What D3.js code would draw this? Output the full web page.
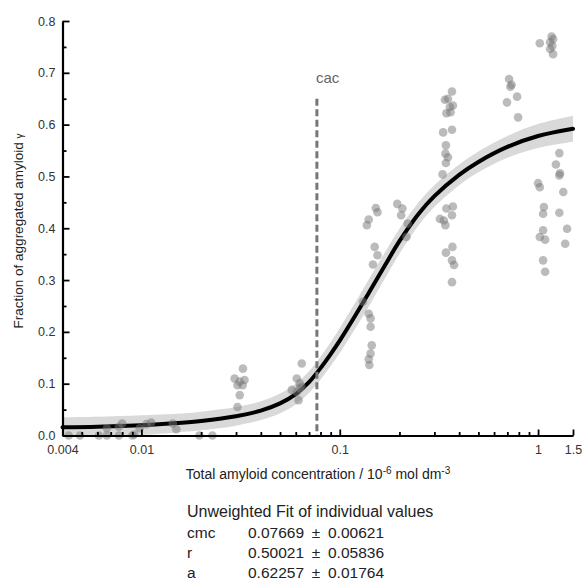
<!DOCTYPE html>
<html>
<head>
<meta charset="utf-8">
<script src="https://cdn.jsdelivr.net/npm/d3@7"></script>
<style>
  body { margin: 0; background: #fff; font-family: "Liberation Sans", Arial, sans-serif; }
  svg text { font-family: "Liberation Sans", Arial, sans-serif; }
</style>
</head>
<body>
<div id="chart"></div>
<script>
// measured values, total concentration (10^-6 mol dm^-3) vs fraction aggregated
const concs = [
    0.0043, 0.0049, 0.0061, 0.0067, 0.0077, 0.0090, 0.0092, 0.0196, 0.0228,
    0.0067, 0.0077, 0.0080, 0.0098, 0.0106, 0.0112, 0.0144, 0.0150,
    0.0325, 0.0295, 0.0313, 0.0331, 0.0324, 0.0305, 0.0313, 0.0305,
    0.0643, 0.0607, 0.0628, 0.0573, 0.0607, 0.0628, 0.0643, 0.0620,
    0.152, 0.155, 0.140, 0.137, 0.150, 0.155, 0.147, 0.131, 0.140, 0.143, 0.143, 0.145, 0.143, 0.140, 0.141,
    0.195, 0.207, 0.204, 0.220, 0.217,
    0.368, 0.339, 0.351, 0.372, 0.359, 0.345, 0.362, 0.332, 0.368, 0.343, 0.341, 0.351, 0.343, 0.330,
    0.345, 0.372, 0.320, 0.335, 0.341, 0.368, 0.370, 0.343, 0.368, 0.377, 0.368,
    0.714, 0.735, 0.725, 0.784, 0.697, 0.793,
    1.17, 1.19, 1.15, 1.18, 1.15, 1.19, 1.02,
    1.28, 1.23, 1.29, 1.28, 1.00, 1.02, 1.34, 1.07, 1.06, 1.28, 1.06, 1.02, 1.085, 1.40, 1.37, 1.06, 1.085
]
const fractions = [
    0.000, 0.000, 0.000, 0.000, 0.000, 0.000, 0.002, 0.000, 0.000,
    0.014, 0.017, 0.023, 0.014, 0.022, 0.025, 0.023, 0.012,
    0.129, 0.110, 0.104, 0.107, 0.097, 0.097, 0.078, 0.055,
    0.139, 0.110, 0.101, 0.088, 0.084, 0.091, 0.094, 0.068,
    0.439, 0.431, 0.417, 0.406, 0.364, 0.348, 0.330, 0.258, 0.235, 0.226, 0.210, 0.174, 0.158, 0.147, 0.136,
    0.447, 0.438, 0.425, 0.409, 0.383,
    0.664, 0.648, 0.650, 0.637, 0.634, 0.622, 0.624, 0.585, 0.590, 0.560, 0.544, 0.537, 0.526, 0.504,
    0.438, 0.442, 0.418, 0.415, 0.406, 0.425, 0.364, 0.353, 0.338, 0.329, 0.296,
    0.688, 0.677, 0.673, 0.654, 0.643, 0.614,
    0.770, 0.765, 0.759, 0.752, 0.746, 0.736, 0.757,
    0.545, 0.523, 0.506, 0.502, 0.487, 0.479, 0.470, 0.441, 0.428, 0.430, 0.396, 0.383, 0.378, 0.399, 0.370, 0.338, 0.316
]

// fitted curve, with half width of the confidence band
const fitX = [0.004, 0.006, 0.01, 0.015, 0.02, 0.03, 0.04, 0.05, 0.06, 0.07, 0.08, 0.09, 0.1,
    0.12, 0.14, 0.17, 0.2, 0.25, 0.3, 0.4, 0.5, 0.7, 1.0, 1.5]
const fitY = [0.016, 0.017, 0.020, 0.024, 0.028, 0.037, 0.048, 0.062, 0.080, 0.103, 0.130, 0.157, 0.183,
    0.232, 0.275, 0.330, 0.375, 0.428, 0.462, 0.503, 0.528, 0.557, 0.578, 0.592]
const fitBand = [0.019, 0.019, 0.019, 0.018, 0.018, 0.018, 0.018, 0.019, 0.020, 0.021, 0.022, 0.023, 0.024,
    0.025, 0.026, 0.025, 0.024, 0.022, 0.021, 0.020, 0.020, 0.021, 0.023, 0.025]

const cac = 0.07669
const cacTop = 0.65

const xTicks = [0.004, 0.01, 0.1, 1, 1.5]
const xTickLabels = ['0.004', '0.01', '0.1', '1', '1.5']
const xMinorTicks = [0.005, 0.006, 0.007, 0.008, 0.009, 0.02, 0.03, 0.04, 0.05, 0.06, 0.07, 0.08, 0.09,
    0.2, 0.3, 0.4, 0.5, 0.6, 0.7, 0.8, 0.9]
const yTicks = [0, 0.1, 0.2, 0.3, 0.4, 0.5, 0.6, 0.7, 0.8]
const yMinorTicks = [0.05, 0.15, 0.25, 0.35, 0.45, 0.55, 0.65, 0.75]

const fitParams = ['cmc', 'r', 'a']
const fitValues = ['0.07669', '0.50021', '0.62257']
const fitErrors = ['0.00621', '0.05836', '0.01764']

const width = 582
const height = 585
const dim = { left: 62.5, right: 573, top: 21, bottom: 435.5 }

const svg = d3.select('#chart').append('svg')
    .attr('width', width).attr('height', height)

const x = d3.scaleLog().domain([0.004, 1.5]).range([dim.left, dim.right])
const y = d3.scaleLinear().domain([0, 0.8]).range([dim.bottom, dim.top])

// confidence band
const curvePts = fitX.map((d, i) => ({ x: d, y: fitY[i], h: fitBand[i] }))
svg.append('path')
    .datum(curvePts)
    .attr('fill', '#d9d9d9')
    .attr('d', d3.area()
        .curve(d3.curveCatmullRom)
        .x(d => x(d.x))
        .y0(d => y(d.y - d.h))
        .y1(d => y(d.y + d.h)))

svg.append('path')
    .datum(curvePts)
    .attr('fill', 'none')
    .attr('stroke', '#000')
    .attr('stroke-width', 4)
    .attr('stroke-linecap', 'round')
    .attr('d', d3.line()
        .curve(d3.curveCatmullRom)
        .x(d => x(d.x))
        .y(d => y(d.y)))

// cac marker
svg.append('line')
    .attr('x1', x(cac)).attr('x2', x(cac))
    .attr('y1', y(cacTop)).attr('y2', y(0))
    .attr('stroke', '#777')
    .attr('stroke-width', 3)
    .attr('stroke-dasharray', '7,3.5')
svg.append('text')
    .attr('x', x(cac) - 1).attr('y', y(cacTop) - 16)
    .style('font-size', '15px').style('fill', '#666')
    .text('cac')

// data points
svg.append('g').selectAll('circle')
    .data(concs)
    .join('circle')
    .attr('cx', d => x(d))
    .attr('cy', (d, i) => y(fractions[i]))
    .attr('r', 4.3)
    .attr('fill', '#777')
    .attr('fill-opacity', 0.5)

// axes
svg.append('g')
    .attr('transform', `translate(${dim.left},0)`)
    .call(d3.axisLeft(y).tickValues(yTicks).tickFormat(d3.format('.1f'))
        .tickSize(-7).tickSizeOuter(0).tickPadding(7))
svg.append('g')
    .attr('transform', `translate(${dim.left},0)`)
    .call(d3.axisLeft(y).tickValues(yMinorTicks).tickFormat('')
        .tickSize(-4).tickSizeOuter(0))
    .call(g => g.select('.domain').remove())

svg.append('g')
    .attr('transform', `translate(0,${dim.bottom})`)
    .call(d3.axisBottom(x).tickValues(xTicks).tickFormat((d, i) => xTickLabels[i])
        .tickSize(-6).tickSizeOuter(0).tickPadding(10))
svg.append('g')
    .attr('transform', `translate(0,${dim.bottom})`)
    .call(d3.axisBottom(x).tickValues(xMinorTicks).tickFormat('')
        .tickSize(-3.5).tickSizeOuter(0))
    .call(g => g.select('.domain').remove())

svg.selectAll('.domain').attr('stroke', '#000').attr('stroke-width', 2.2)
svg.selectAll('.tick line').attr('stroke', '#000').attr('stroke-width', 1.8)
svg.selectAll('.tick text')
    .style('font-size', '12.5px')
    .style('font-family', '"Liberation Sans", Arial, sans-serif')
    .attr('fill', '#333')

// axis titles
const xTitle = svg.append('text')
    .attr('x', 318).attr('y', 479)
    .attr('text-anchor', 'middle')
    .style('font-size', '14px').style('fill', '#222')
xTitle.append('tspan').text('Total amyloid concentration / 10')
xTitle.append('tspan').attr('dy', -5).style('font-size', '10px').text('-6')
xTitle.append('tspan').attr('dy', 5).text(' mol dm')
xTitle.append('tspan').attr('dy', -5).style('font-size', '10px').text('-3')

const yTitle = svg.append('text')
    .attr('transform', 'translate(23,231) rotate(-90)')
    .attr('text-anchor', 'middle')
    .style('font-size', '13.5px').style('fill', '#222')
yTitle.append('tspan').text('Fraction of aggregated amyloid ')
yTitle.append('tspan').style('font-size', '10px').text('γ')

// fit summary
const fitX0 = 187
const fitCol = 248
svg.append('text')
    .attr('x', fitX0).attr('y', 517)
    .style('font-size', '16px').style('fill', '#222')
    .text('Unweighted Fit of individual values')
fitParams.forEach((p, i) => {
    const yy = 538 + i * 20
    svg.append('text').attr('x', fitX0).attr('y', yy)
        .style('font-size', '15.5px').style('fill', '#222').text(p)
    svg.append('text').attr('x', fitCol).attr('y', yy)
        .style('font-size', '15.5px').style('fill', '#222').text(fitValues[i])
    svg.append('text').attr('x', 316).attr('y', yy)
        .attr('text-anchor', 'middle')
        .style('font-size', '15.5px').style('fill', '#222').text('±')
    svg.append('text').attr('x', 328).attr('y', yy)
        .style('font-size', '15.5px').style('fill', '#222').text(fitErrors[i])
})
</script>
</body>
</html>
